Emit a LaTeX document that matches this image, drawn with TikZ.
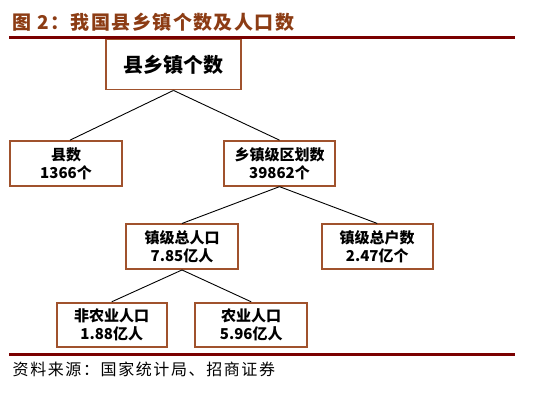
\documentclass[tikz,border=0pt]{standalone}
\usepackage{fontspec}
\newfontfamily\cjk{Noto Sans CJK SC}
\definecolor{titlebrown}{RGB}{140,60,20}
\definecolor{ruleRed}{RGB}{122,0,0}
\definecolor{boxBrown}{RGB}{160,82,45}
\tikzset{
  box/.style={draw=boxBrown, line width=1.8pt, fill=white, align=center,
    font=\cjk\bfseries\fontsize{15}{18}\selectfont, inner sep=0pt},
  conn/.style={draw=black, line width=0.9pt},
  rulebar/.style={draw=ruleRed, line width=2.6pt}
}
\begin{document}
\begin{tikzpicture}[x=1pt,y=-1pt]
\useasboundingbox (0,0) rectangle (553,413);
\node[anchor=west, text=titlebrown, font=\cjk\bfseries\fontsize{19}{22}\selectfont, inner sep=0pt] (title) at (12.5,22) {\addfontfeature{LetterSpace=7.5}图 2：我国县乡镇个数及人口数};
\coordinate (r1a) at (9.3,37.5);
\coordinate (r1b) at (515,37.5);
\draw[rulebar] (r1a) -- (r1b);
\node[box, minimum width=135pt, minimum height=50pt, font=\cjk\bfseries\fontsize{20}{24}\selectfont] (top) at (173.5,64.5) {县乡镇个数};
\node[box, minimum width=112pt, minimum height=44.7pt] (xian) at (66,163.4) {县数\\1366个};
\node[box, minimum width=111pt, minimum height=44.7pt] (xz) at (279.5,163.4) {乡镇级区划数\\39862个};
\node[box, minimum width=111.7pt, minimum height=44.7pt] (zrk) at (182,246.7) {镇级总人口\\7.85亿人};
\node[box, minimum width=111pt, minimum height=44.7pt] (zhs) at (377.2,246.7) {镇级总户数\\2.47亿个};
\node[box, minimum width=110pt, minimum height=44.6pt] (fn) at (111.7,325) {非农业人口\\1.88亿人};
\node[box, minimum width=112pt, minimum height=44.6pt] (ny) at (251.2,325) {农业人口\\5.96亿人};
\draw[conn] (top.south) -- ([xshift=4pt]xian.north);
\draw[conn] (top.south) -- (xz.north);
\draw[conn] (xz.south) -- (zrk.north);
\draw[conn] (xz.south) -- (zhs.north);
\draw[conn] (zrk.south) -- (fn.north);
\draw[conn] (zrk.south) -- (ny.north);
\coordinate (r2a) at (9.3,354.5);
\coordinate (r2b) at (515,354.5);
\draw[rulebar] (r2a) -- (r2b);
\node[anchor=west, text=black, font=\cjk\fontsize{16}{19}\selectfont, inner sep=0pt] (src) at (12.5,369) {\addfontfeature{LetterSpace=10}资料来源：国家统计局、招商证券};
\end{tikzpicture}
\end{document}
